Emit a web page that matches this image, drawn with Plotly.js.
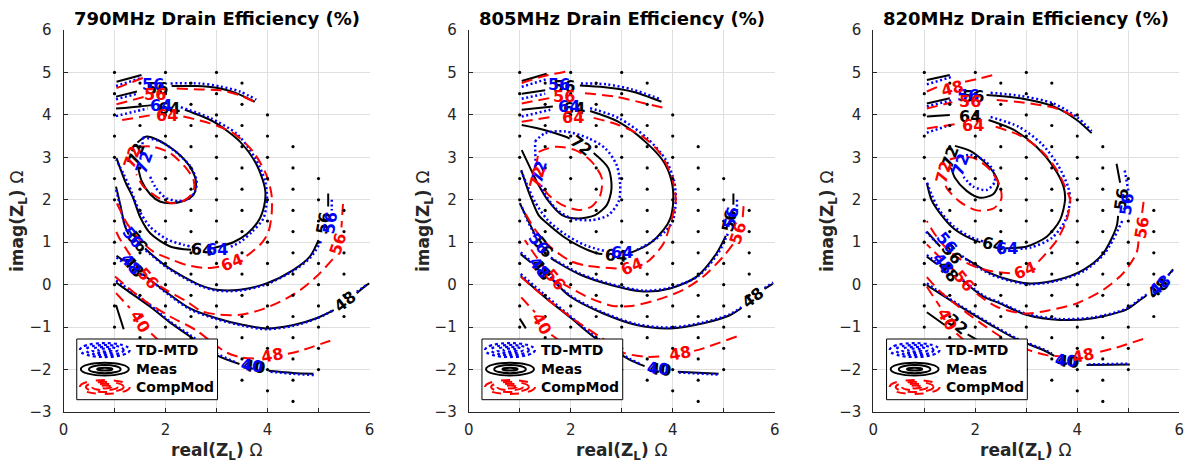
<!DOCTYPE html>
<html><head><meta charset="utf-8">
<script src="https://cdn.plot.ly/plotly-3.0.1.min.js"></script>
<style>body{margin:0;background:#fff}#c{width:1187px;height:463px}</style>
</head><body><div id="c"></div>
<script>
// ---------- data ----------
const panelTitles = ['790MHz Drain Efficiency (%)','805MHz Drain Efficiency (%)','820MHz Drain Efficiency (%)'];
const seriesNames = ['TD-MTD','Meas','CompMod'];
const xTickVals = [0,2,4,6];
const yTickVals = [-3,-2,-1,0,1,2,3,4,5,6];

// measurement grid points (x column, y values)
const dotCol1 = [5,4.5,4,3.5,3,2.5,2,1.5,1,0.5,0,-0.5,-1];
const dotCol15 = [4.75,4.25,3.75,3.25,2.75,2.25,1.75,1.25,0.75,0.25,-0.25,-0.75,-1.25];
const dotCol2 = [5,4.5,4,3.5,3,2.5,2,1.5,1,0.5,0,-0.5,-1,-1.5];
const dotCol25 = [4.75,4.25,3.75,3.25,2.75,2.25,1.75,1.25,0.75,0.25,-0.25,-0.75,-1.25,-1.75];
const dotCol3 = [5,4.5,4,3.5,3,2.5,2,1.5,1,0.5,0,-0.5,-1,-1.5,-2];
const dotCol35 = [4.75,4.25,3.75,3.25,2.75,2.25,1.75,1.25,0.75,0.25,-0.25,-0.75,-1.25,-1.75,-2.25];
const dotCol4 = [4,3.5,3,2.5,2,1.5,1,0.5,0,-0.5,-1,-1.5,-2,-2.5];
const dotCol45 = [3.25,2.75,2.25,1.75,1.25,0.75,0.25,-0.25,-0.75,-1.25,-1.75,-2.25,-2.75];
const dotCol5 = [2.5,2,1.5,1,0.5,0,-0.5,-1,-1.5,-2];
const dotCol55 = [1.75,1.25,0.75,0.25,-0.25,-0.75];
const dotCols = [[1,dotCol1],[1.5,dotCol15],[2,dotCol2],[2.5,dotCol25],[3,dotCol3],[3.5,dotCol35],[4,dotCol4],[4.5,dotCol45],[5,dotCol5],[5.5,dotCol55]];

// ---- Panel 1 (790 MHz) contour polylines [x,y], null = break ----
const p1Meas = [[1.04,4.78],[1.53,4.94],null,
 [1.03,4.43],[1.44,4.55],null,[2.12,4.68],[2.6,4.68],[3.0,4.64],[3.35,4.53],[3.75,4.31],null,
 [1.03,4.15],[1.5,4.2],[1.73,4.23],null,[2.38,4.12],[2.94,3.84],[3.46,3.37],[3.79,2.82],[3.95,2.27],[3.95,1.96],[3.85,1.56],[3.6,1.2],[3.33,1.0],[3.0,0.88],[2.9,0.85],null,[2.5,0.82],[2.09,0.9],[1.7,1.21],[1.5,1.6],[1.37,2.03],[1.21,2.43],[1.04,2.98],null,
 [1.45,3.35],[1.63,3.49],[1.83,3.42],[2.22,3.12],[2.51,2.72],[2.6,2.39],[2.55,2.12],[2.35,1.97],[2.09,1.92],[1.89,1.96],[1.7,2.13],[1.53,2.45],[1.46,2.78],null,
 [5.19,2.15],[5.19,1.84],null,[5.0,1.05],[4.83,0.66],[4.51,0.35],[3.98,0.03],[3.46,-0.12],[3.0,-0.12],[2.68,-0.01],[2.35,0.19],[2.02,0.43],[1.7,0.74],[1.6,0.85],null,[1.28,1.18],[1.2,1.4],[1.12,1.85],[1.03,2.31],null,
 [1.04,0.68],[1.18,0.56],null,[1.55,0.25],[1.7,0.11],[2.1,-0.25],[2.48,-0.56],[3.0,-0.79],[3.53,-0.95],[3.98,-1.03],[4.51,-0.95],[4.96,-0.79],[5.3,-0.6],null,[5.75,-0.2],[5.94,-0.01],[6.0,0.03],null,
 [1.03,0.05],[1.3,-0.18],[1.7,-0.52],[2.1,-0.9],[2.48,-1.22],[3.0,-1.66],[3.45,-1.87],null,[4.02,-2.03],[4.5,-2.08],[4.9,-2.1],null,
 [1.03,-0.48],[1.18,-1.05]];
const p1MeasLabels = [['56',1.84,4.62,0],['64',2.06,4.15,0],['72',1.42,3.07,-70],['64',2.72,0.82,5],['56',5.09,1.45,-80],['56',1.44,1.01,50],['48',1.37,0.42,50],['48',5.52,-0.4,-38],['40',3.74,-1.93,8]];
const p1Td = [[1.03,4.68],[1.55,4.88],null,
 [1.03,4.37],[1.45,4.5],null,[2.1,4.74],[2.68,4.74],[3.07,4.67],[3.46,4.55],[3.78,4.36],null,
 [1.03,3.97],[1.4,4.08],[1.65,4.15],null,[2.3,4.18],[2.87,3.93],[3.4,3.55],[3.75,3.0],[3.95,2.45],[3.99,2.03],[3.92,1.56],[3.7,1.25],[3.46,1.0],[3.25,0.88],null,[2.65,0.86],[2.35,0.94],[2.03,1.07],[1.7,1.36],[1.47,1.78],[1.33,2.2],[1.18,2.6],[1.03,2.95],null,
 [1.55,3.47],[1.89,3.38],[2.2,3.13],[2.48,2.8],[2.61,2.45],[2.58,2.2],[2.45,2.02],[2.25,1.97],[2.0,2.05],[1.8,2.3],[1.68,2.6],null,[1.55,3.2],[1.55,3.47],null,
 [5.26,2.0],[5.26,1.75],null,[5.05,1.02],[4.85,0.65],[4.51,0.33],[3.98,0.01],[3.46,-0.14],[3.0,-0.14],[2.68,-0.03],[2.35,0.17],[2.02,0.41],[1.72,0.7],[1.58,0.84],null,[1.25,1.25],[1.18,1.5],[1.1,1.9],[1.03,2.25],null,
 [1.04,0.64],[1.16,0.53],null,[1.52,0.25],[1.72,0.09],[2.1,-0.27],[2.48,-0.58],[3.0,-0.81],[3.53,-0.97],[3.98,-1.05],[4.51,-0.97],[4.96,-0.8],[5.3,-0.6],null,[5.75,-0.17],[5.95,0.0],null,
 [1.03,0.1],[1.3,-0.13],[1.72,-0.5],[2.1,-0.88],[2.5,-1.2],[3.0,-1.62],[3.4,-1.84],null,[4.06,-2.05],[4.5,-2.1],[4.92,-2.13]];
const p1TdLabels = [['56',1.76,4.72,0],['64',1.92,4.23,0],['72',1.58,2.88,-70],['64',3.0,0.82,0],['56',5.22,1.45,-80],['56',1.36,1.12,50],['48',1.33,0.48,50],['40',3.7,-1.9,8]];
const p1Comp = [[1.04,4.63],[1.66,4.92],null,
 [1.04,4.25],[1.6,4.43],null,[2.22,4.62],[2.68,4.6],[3.07,4.58],[3.46,4.46],[3.72,4.32],null,
 [1.15,3.88],[1.7,3.99],null,[2.35,3.96],[2.87,3.8],[3.33,3.57],[3.72,3.13],[3.98,2.58],[4.08,2.11],[4.08,1.64],[4.02,1.25],[3.9,1.0],[3.66,0.74],[3.52,0.62],null,[3.05,0.42],[2.81,0.39],[2.42,0.46],[2.1,0.6],[1.76,0.78],[1.5,1.05],[1.24,1.45],[1.11,1.76],[1.03,1.95],null,
 [1.47,3.25],[1.76,3.25],[2.09,3.1],[2.38,2.78],[2.55,2.47],[2.55,2.2],[2.38,1.99],[2.12,1.92],[1.83,2.07],[1.57,2.31],[1.43,2.6],null,
 [5.48,1.9],[5.45,1.35],null,[5.28,0.6],[4.96,0.19],[4.64,-0.13],[4.25,-0.4],[3.85,-0.6],[3.46,-0.71],[3.07,-0.71],[2.7,-0.62],[2.42,-0.4],[2.02,-0.13],[1.88,-0.02],null,[1.5,0.35],[1.24,0.82],[1.08,1.13],[1.02,1.3],null,
 [1.01,0.19],[1.57,-0.36],[2.09,-0.75],[2.61,-1.08],[2.9,-1.35],[3.2,-1.6],[3.5,-1.72],[3.78,-1.74],null,[4.4,-1.63],[4.64,-1.56],[5.23,-1.32],null,
 [1.03,-0.2],[1.3,-0.55],null,[1.72,-1.15],[1.9,-1.35]];
const p1CompLabels = [['56',1.79,4.49,0],['64',2.02,3.98,0],['72',1.34,3.0,-70],['64',3.3,0.52,-22],['56',5.39,0.96,-72],['56',1.66,0.15,48],['48',4.08,-1.66,-10],['40',1.5,-0.87,60]];

// ---- Panel 2 (805 MHz) ----
const p2Meas = [[1.04,4.8],[1.53,4.97],null,
 [1.04,4.5],[1.5,4.58],null,[2.18,4.69],[2.67,4.65],[3.2,4.55],[3.78,4.31],null,
 [1.04,4.12],[1.65,4.2],null,[2.38,4.09],[2.93,3.84],[3.46,3.37],[3.82,2.9],[3.98,2.43],[4.01,1.96],[3.95,1.55],[3.82,1.29],[3.55,0.97],[3.23,0.78],[3.12,0.74],null,[2.62,0.72],[2.51,0.74],[2.18,0.9],[1.86,1.13],[1.53,1.45],[1.37,1.64],[1.2,2.11],[1.03,2.7],null,
 [1.04,3.76],[1.5,3.64],[1.89,3.49],[1.98,3.44],null,[2.45,3.1],[2.74,2.74],[2.8,2.27],[2.71,1.88],[2.48,1.64],[2.15,1.56],[1.83,1.64],[1.57,1.96],[1.37,2.35],[1.21,2.74],[1.04,3.17],null,
 [5.19,2.15],[5.19,1.88],null,[5.04,1.15],[4.86,0.74],[4.47,0.19],[3.95,-0.09],[3.43,-0.16],[2.77,0.0],[2.18,0.24],[1.72,0.54],[1.62,0.62],null,[1.3,1.18],[1.15,1.55],[1.0,1.92],null,
 [1.02,0.72],[1.22,0.52],null,[1.62,0.15],[1.99,-0.28],[2.64,-0.68],[3.29,-0.95],[3.95,-1.03],[4.6,-0.91],[5.12,-0.72],[5.35,-0.55],null,[5.8,-0.1],[5.96,0.02],null,
 [1.02,0.2],[1.5,-0.3],[2.0,-0.78],[2.44,-1.22],[3.16,-1.77],[3.45,-1.92],null,[4.1,-2.05],[4.9,-2.1],null,
 [1.0,-0.8],[1.12,-1.03]];
const p2MeasLabels = [['56',1.86,4.67,0],['64',2.06,4.15,0],['72',2.2,3.28,38],['64',2.88,0.68,5],['56',5.1,1.5,-78],['56',1.45,0.9,52],['48',1.42,0.35,52],['48',5.58,-0.31,-38],['40',3.76,-2.0,5]];
const p2Td = [[1.04,4.66],[1.55,4.85],null,
 [1.04,4.38],[1.5,4.5],null,[2.2,4.74],[2.7,4.72],[3.2,4.6],[3.78,4.36],null,
 [1.04,3.96],[1.6,4.12],null,[2.38,4.16],[2.95,3.92],[3.5,3.45],[3.86,2.95],[4.03,2.43],[4.06,1.96],[4.0,1.5],[3.85,1.25],[3.55,0.98],[3.3,0.82],null,[2.65,0.8],[2.3,0.92],[1.9,1.18],[1.55,1.52],[1.3,1.95],[1.12,2.42],[1.03,2.68],null,
 [1.3,3.37],[1.5,3.57],[1.89,3.61],[2.35,3.45],[2.68,3.21],[2.9,2.82],[2.97,2.35],[2.94,1.96],[2.74,1.64],[2.41,1.52],[2.02,1.56],[1.7,1.8],[1.47,2.19],[1.41,2.38],null,[1.31,2.92],[1.3,3.37],null,
 [5.26,2.0],[5.26,1.75],null,[5.08,1.2],[4.9,0.76],[4.5,0.2],[3.95,-0.07],[3.43,-0.14],[2.77,0.02],[2.18,0.26],[1.72,0.56],[1.6,0.65],null,[1.28,1.2],[1.12,1.6],[1.02,1.9],null,
 [1.02,0.76],[1.2,0.57],null,[1.6,0.18],[1.99,-0.26],[2.64,-0.66],[3.29,-0.93],[3.95,-1.01],[4.6,-0.89],[5.12,-0.7],[5.35,-0.53],null,[5.8,-0.08],[5.97,0.05],null,
 [1.02,0.25],[1.5,-0.25],[2.0,-0.75],[2.44,-1.19],[3.16,-1.75],[3.4,-1.88],null,[4.12,-2.07],[4.92,-2.12]];
const p2TdLabels = [['56',1.78,4.72,0],['64',1.97,4.2,0],['72',1.37,2.65,-75],['64',3.0,0.76,0],['56',5.15,1.58,-78],['56',1.38,0.98,52],['48',1.38,0.4,52],['40',3.72,-1.98,5]];
const p2Comp = [[1.04,4.75],[1.5,4.92],[1.9,5.02],null,
 [1.04,4.27],[1.6,4.4],null,[2.28,4.51],[2.87,4.43],[3.46,4.27],[3.88,4.15],null,
 [1.04,3.84],[1.6,3.95],null,[2.45,3.93],[2.9,3.78],[3.4,3.5],[3.75,3.1],[3.98,2.55],[4.06,2.0],[4.01,1.68],[3.82,0.97],[3.55,0.58],[3.45,0.5],null,[2.9,0.38],[2.77,0.39],[2.3,0.45],[1.99,0.56],[1.59,0.9],[1.3,1.3],[1.1,1.7],null,
 [1.37,3.13],[1.7,3.25],[2.09,3.17],[2.41,2.9],[2.61,2.51],[2.58,2.11],[2.41,1.84],[2.15,1.76],[1.83,1.88],[1.57,2.11],[1.46,2.28],null,[1.32,2.78],[1.37,3.13],null,
 [5.39,1.85],[5.37,1.55],null,[5.18,0.95],[4.99,0.66],[4.6,0.19],[4.21,-0.12],[3.69,-0.36],[3.2,-0.5],[2.83,-0.5],[2.4,-0.33],[2.0,-0.08],[1.85,0.02],null,[1.55,0.3],[1.3,0.7],[1.1,1.05],null,
 [1.03,0.18],[1.2,0.0],[1.6,-0.4],[2.1,-0.85],[2.6,-1.25],[3.03,-1.6],[3.5,-1.7],[3.85,-1.68],null,[4.42,-1.56],[4.6,-1.5],[5.26,-1.22],null,
 [1.03,-0.3],[1.3,-0.65],null,[1.62,-1.18],[1.85,-1.38]];
const p2CompLabels = [['56',1.86,4.43,0],['64',2.05,3.93,0],['72',1.34,2.53,-75],['64',3.2,0.42,-22],['56',5.29,1.22,-72],['56',1.69,0.12,50],['48',4.14,-1.62,-10],['40',1.43,-0.91,60]];

// ---- Panel 3 (820 MHz) ----
const p3Meas = [[1.05,4.82],[1.5,4.94],null,
 [1.05,4.27],[1.5,4.39],null,[2.22,4.47],[2.88,4.39],[3.53,4.2],[3.99,3.88],[4.28,3.57],null,
 [1.05,3.96],[1.5,4.0],null,[2.26,3.88],[2.75,3.65],[3.2,3.25],[3.53,2.78],[3.73,2.31],[3.76,2.0],[3.66,1.52],[3.4,1.13],[3.01,0.9],[2.68,0.86],[2.6,0.86],null,[2.1,1.0],[1.9,1.09],[1.57,1.33],[1.31,1.68],[1.14,2.0],[1.05,2.4],null,
 [1.6,3.27],[1.9,3.15],[2.16,2.91],[2.38,2.6],[2.45,2.37],[2.35,2.13],[2.09,2.05],[1.83,2.21],[1.6,2.52],[1.53,2.75],null,
 [4.77,2.85],[4.84,2.4],null,[4.8,1.62],[4.77,1.37],[4.51,0.74],[4.12,0.35],[3.6,0.11],[3.07,0.03],[2.68,0.11],[2.29,0.27],[1.9,0.55],[1.8,0.62],null,[1.31,0.9],[1.05,1.25],null,
 [1.05,0.66],[1.25,0.48],null,[1.75,0.1],[2.16,-0.28],[2.48,-0.44],[3.0,-0.71],[3.66,-0.83],[4.31,-0.79],[4.96,-0.59],[5.23,-0.36],[5.35,-0.26],null,[5.8,0.25],[5.88,0.36],null,
 [1.05,-0.01],[1.7,-0.51],[2.35,-0.98],[2.8,-1.28],[3.33,-1.54],[3.55,-1.68],null,[4.18,-1.89],[5.03,-1.88],null,
 [1.05,-0.65],[1.4,-0.95],null,[1.85,-1.17],[2.1,-1.35]];
const p3MeasLabels = [['56',1.95,4.43,0],['64',1.9,3.96,0],['72',1.5,3.0,-70],['64',2.35,0.94,12],['56',4.87,2.0,-82],['56',1.54,0.74,50],['48',1.47,0.31,50],['48',5.58,-0.08,-42],['40',3.82,-1.81,5],['32',1.65,-0.93,40]];
const p3Td = [[1.05,4.72],[1.55,4.9],null,
 [1.05,4.2],[1.55,4.35],null,[2.3,4.52],[2.88,4.45],[3.53,4.27],[3.99,3.95],[4.28,3.62],null,
 [1.05,3.58],[1.55,3.78],null,[2.3,3.95],[2.85,3.72],[3.3,3.32],[3.62,2.82],[3.82,2.3],[3.86,2.0],[3.76,1.5],[3.5,1.1],[3.1,0.88],[2.85,0.84],null,[2.15,1.02],[1.9,1.13],[1.57,1.38],[1.3,1.75],[1.15,2.1],[1.05,2.42],null,
 [1.73,3.02],[1.9,3.06],[2.16,2.94],[2.35,2.7],[2.38,2.42],[2.22,2.23],[1.96,2.31],[1.77,2.54],null,
 [4.93,2.69],[5.0,2.22],null,[4.88,1.5],[4.55,0.76],[4.14,0.33],[3.6,0.09],[3.07,0.01],[2.68,0.09],[2.29,0.25],[1.9,0.53],[1.7,0.72],null,[1.25,0.98],[1.03,1.25],null,
 [1.05,0.7],[1.22,0.55],null,[1.75,0.12],[2.16,-0.26],[2.48,-0.42],[3.0,-0.69],[3.66,-0.81],[4.31,-0.77],[4.96,-0.57],[5.23,-0.34],[5.4,-0.2],null,[5.78,0.22],[5.9,0.38],null,
 [1.05,0.03],[1.7,-0.49],[2.35,-0.96],[2.8,-1.26],[3.33,-1.52],[3.5,-1.62],null,[4.22,-1.88],[5.03,-1.86]];
const p3TdLabels = [['56',1.85,4.46,0],['72',1.72,2.82,-70],['64',2.62,0.86,0],['56',4.96,1.9,-82],['56',1.44,1.0,50],['48',1.37,0.5,50],['48',5.62,-0.02,-42],['40',3.78,-1.78,5]];
const p3Comp = [[1.05,4.55],[1.3,4.68],null,[1.8,4.78],[2.09,4.86],[2.42,4.96],null,
 [1.05,4.15],[1.55,4.3],null,[2.42,4.35],[3.07,4.27],[3.59,4.15],[4.02,3.92],null,
 [1.05,3.68],[1.6,3.78],null,[2.4,3.72],[2.9,3.5],[3.3,3.15],[3.6,2.7],[3.8,2.2],[3.86,2.0],[3.79,1.52],[3.6,1.05],[3.33,0.66],[3.22,0.52],null,[2.68,0.27],[2.35,0.31],[2.0,0.42],[1.7,0.6],[1.4,0.9],[1.2,1.2],[1.05,1.5],null,
 [1.5,2.95],[1.7,3.0],[1.96,2.99],[2.28,2.72],[2.48,2.33],[2.51,2.02],[2.35,1.79],[2.03,1.75],[1.7,1.95],[1.44,2.27],[1.4,2.4],null,
 [5.3,1.95],[5.26,1.6],null,[5.2,1.02],[5.16,0.74],[4.9,0.27],[4.51,-0.12],[3.99,-0.44],[3.46,-0.6],[2.94,-0.68],[2.42,-0.52],[2.1,-0.28],[1.97,-0.16],null,[1.6,0.32],[1.3,0.65],[1.05,0.95],null,
 [1.05,0.18],[1.3,-0.15],[1.6,-0.45],[2.1,-0.9],[2.6,-1.3],[3.0,-1.52],[3.4,-1.66],[3.82,-1.7],null,[4.45,-1.58],[4.77,-1.48],[5.29,-1.28],null,
 [1.05,-0.05],[1.31,-0.52],null,[1.63,-1.15],[1.82,-1.35]];
const p3CompLabels = [['48',1.54,4.63,-15],['56',1.9,4.31,0],['64',1.96,3.74,0],['72',1.38,2.64,-75],['64',2.97,0.33,-22],['56',5.26,1.33,-80],['56',1.77,0.1,50],['48',4.12,-1.66,-12],['40',1.45,-0.82,60]];

// ---------- build ----------
const FONT = 'DejaVu Sans, Arial, sans-serif';
const styles = [
  {color:'#0000ff', width:2.5, dash:'2px,2.6px'},
  {color:'#000000', width:2, dash:'solid'},
  {color:'#ff0000', width:2, dash:'11px,6px'}
];
const panels = [
  {curves:[p1Td,p1Meas,p1Comp], labels:[p1TdLabels,p1MeasLabels,p1CompLabels]},
  {curves:[p2Td,p2Meas,p2Comp], labels:[p2TdLabels,p2MeasLabels,p2CompLabels]},
  {curves:[p3Td,p3Meas,p3Comp], labels:[p3TdLabels,p3MeasLabels,p3CompLabels]}
];
const domains = [[63.5/1187,369.5/1187],[468.7/1187,774.7/1187],[873.3/1187,1179.3/1187]];
const yTitleX = [18,424,828];

const traces = [], annotations = [], shapes = [];
const dx = [], dy = [];
dotCols.forEach(([cx,ys]) => ys.forEach(v => {dx.push(cx); dy.push(v);}));

panels.forEach((p,i) => {
  const xa = i===0?'x':'x'+(i+1), ya = i===0?'y':'y'+(i+1);
  [1,0,2].forEach(s => {
    const pts = p.curves[s];
    traces.push({type:'scatter', mode:'lines', name:seriesNames[s], showlegend:false,
      x: pts.map(q => q===null?null:q[0]), y: pts.map(q => q===null?null:q[1]),
      xaxis:xa, yaxis:ya, connectgaps:false,
      line:{color:styles[s].color, width:styles[s].width, dash:styles[s].dash, shape:'spline', smoothing:0.8},
      hoverinfo:'skip'});
  });
  traces.push({type:'scatter', mode:'markers', x:dx, y:dy, xaxis:xa, yaxis:ya, showlegend:false,
    marker:{color:'#000', size:3.2}, hoverinfo:'skip'});
  [1,0,2].forEach(s => {
    p.labels[s].forEach(([t,lx,ly,ang]) => {
      annotations.push({text:t, x:lx, y:ly, xref:xa, yref:ya, showarrow:false, textangle:ang,
        font:{family:FONT, size:16, color:styles[s].color, weight:'bold'}});
    });
  });
  const cx = (domains[i][0]+domains[i][1])/2;
  annotations.push({text:panelTitles[i], x:cx, y:(412-18)/382, xref:'paper', yref:'paper', showarrow:false,
    xanchor:'center', yanchor:'middle', font:{family:FONT, size:18, color:'#000', weight:'bold'}});
  annotations.push({text:'real(Z<sub>L</sub>) <span style="font-weight:normal">Ω</span>', x:cx, y:(412-451)/382, xref:'paper', yref:'paper', showarrow:false,
    xanchor:'center', yanchor:'middle', font:{family:FONT, size:17, color:'#262626', weight:'bold'}});
  annotations.push({text:'imag(Z<sub>L</sub>) <span style="font-weight:normal">Ω</span>', x:yTitleX[i]/1187, y:0.5, xref:'paper', yref:'paper', showarrow:false,
    textangle:-90, xanchor:'center', yanchor:'middle', font:{family:FONT, size:17, color:'#262626', weight:'bold'}});
  shapes.push({type:'rect', xref:xa, yref:ya, x0:0.26, x1:3.02, y0:-2.71, y1:-1.28, layer:'above',
    fillcolor:'#fff', line:{color:'#000', width:1}});
  const rows = [-1.54,-1.99,-2.41];
  const icons = [[0.49,0.165],[0.37,0.12],[0.25,0.075],[0.13,0.035]];
  rows.forEach((ry,s) => {
    const n = s===1?3:4;
    for (let k=0;k<n;k++){
      const [hw,hh] = s===1 ? [[0.47,0.15],[0.31,0.095],[0.15,0.03]][k] : icons[k];
      shapes.push({type:'circle', xref:xa, yref:ya, x0:0.81-hw, x1:0.81+hw, y0:ry-hh, y1:ry+hh, layer:'above',
        line:{color:styles[s].color, width:s===0?2.2:2, dash:s===0?'dot':(s===2?'dash':'solid')}});
    }
    annotations.push({text:seriesNames[s], x:1.38, y:ry, xref:xa, yref:ya, showarrow:false, xanchor:'left', yanchor:'middle',
      font:{family:FONT, size:14, color:'#000', weight:'bold'}});
  });
});

const axBase = {showline:true, linecolor:'#262626', linewidth:1, mirror:false, ticks:'inside', ticklen:4, tickcolor:'#262626',
  gridcolor:'#dfdfdf', gridwidth:1, zeroline:false, tickfont:{family:FONT, size:15, color:'#262626'}, fixedrange:true};
const layout = {width:1187, height:463, margin:{l:0,r:0,t:30,b:51}, paper_bgcolor:'#fff', plot_bgcolor:'#fff',
  showlegend:false, annotations, shapes};
for (let i=0;i<3;i++){
  const sx = i===0?'':String(i+1);
  layout['xaxis'+sx] = Object.assign({}, axBase, {domain:domains[i], range:[0,6], tickvals:xTickVals, anchor:'y'+sx, ticklabelstandoff:4,
    minor:{dtick:1, tick0:0, showgrid:true, gridcolor:'#dfdfdf', gridwidth:1, ticks:'inside', ticklen:4, tickcolor:'#262626'}});
  layout['yaxis'+sx] = Object.assign({}, axBase, {domain:[0,1], range:[-3,6], tickvals:yTickVals, anchor:'x'+sx, ticklabelstandoff:8});
}
Plotly.newPlot('c', traces, layout, {staticPlot:true, displayModeBar:false});
</script>
</body></html>
